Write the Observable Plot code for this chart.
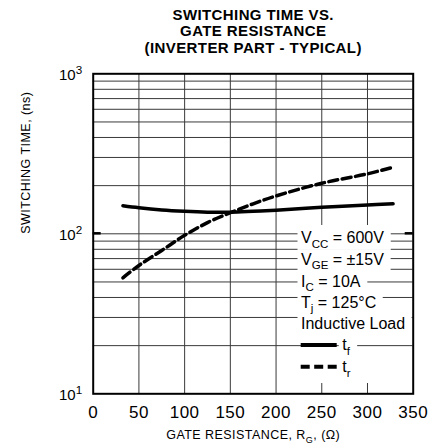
<!DOCTYPE html>
<html><head><meta charset="utf-8">
<script src="https://cdn.jsdelivr.net/npm/d3@7"></script>
<script src="https://cdn.jsdelivr.net/npm/@observablehq/plot@0.6"></script>
<style>
html,body{margin:0;padding:0;background:#fff;}
#chart{width:442px;height:445px;}
.ttl{letter-spacing:0.4px}
.axlab{letter-spacing:0.45px}
.xtk{letter-spacing:0.5px}
</style></head><body><div id="chart"></div>
<script>
// ---- data ----
const gateRes = [32.5, 50, 75, 100, 125, 150, 175, 200, 250, 300, 328];
const tFall   = [149.6, 145.4, 141, 138.3, 136.6, 136.3, 138.2, 140.5, 146.6, 151.3, 154];
const tRise   = [53.1, 63.4, 78.7, 97.8, 117.5, 135.5, 154, 172.5, 207, 237, 260.6];

const xTicks = [0, 50, 100, 150, 200, 250, 300, 350];
const xGrid = [50, 100, 150, 200, 250, 300];
const yTicks = [10, 100, 1000];
const yTickLabels = ["10^{1}", "10^{2}", "10^{3}"];
const yGrid = [20, 30, 40, 50, 60, 70, 80, 90, 100, 200, 300, 400, 500, 600, 700, 800, 900];

const titleText = "SWITCHING TIME VS.\nGATE RESISTANCE\n(INVERTER PART - TYPICAL)";
const xLabel = "GATE RESISTANCE, R_{G}, (Ω)";
const yLabel = "SWITCHING TIME, (ns)";
const condLines = ["V_{CC} = 600V", "V_{GE} = ±15V", "I_{C} = 10A", "T_{j} = 125°C", "Inductive Load"];
const seriesNames = ["t_{f}", "t_{r}"];

const tfData = gateRes.map((x, i) => ({x, y: tFall[i]}));
const trData = gateRes.map((x, i) => ({x, y: tRise[i]}));

// ---- layout ----
const mL = 92.7, mT = 73.3, mR = 29.3, mB = 51.7;
const gridColor = "#3a3a3a";

const legendBox = (index, scales, values, dims) => {
  const g = d3.create("svg:g");
  g.append("rect")
    .attr("x", dims.marginLeft + 201.5).attr("y", dims.marginTop + 151.7)
    .attr("width", 118).attr("height", 158).attr("fill", "white");
  return g.node();
};

const stubs = (index, scales, values, dims) => {
  const g = d3.create("svg:g").attr("stroke", "black").attr("stroke-width", 2.5);
  const y = scales.y(100);
  const L = dims.marginLeft, R = dims.width - dims.marginRight;
  g.append("line").attr("x1", L).attr("x2", L + 8).attr("y1", y).attr("y2", y);
  g.append("line").attr("x1", R - 8).attr("x2", R).attr("y1", y).attr("y2", y);
  return g.node();
};

const legendSamples = (index, scales, values, dims) => {
  const g = d3.create("svg:g").attr("stroke", "black").attr("stroke-width", 4).attr("fill", "none");
  const x0 = dims.marginLeft + 208, x1 = dims.marginLeft + 244;
  g.append("line").attr("x1", x0).attr("x2", x1).attr("y1", dims.marginTop + 271.7).attr("y2", dims.marginTop + 271.7);
  g.append("line").attr("x1", x0).attr("x2", x1).attr("y1", dims.marginTop + 293.4).attr("y2", dims.marginTop + 293.4)
    .attr("stroke-dasharray", "9,4.5");
  return g.node();
};

const condDy = [169.2, 190.7, 212.7, 233.7, 254.7];
const seriesDy = [276.2, 298.2];

const plot = Plot.plot({
  width: 442,
  height: 445,
  marginLeft: mL, marginTop: mT, marginRight: mR, marginBottom: mB,
  style: {fontFamily: "'Liberation Sans', Arial, Helvetica, sans-serif", background: "white", color: "black", overflow: "visible"},
  x: {domain: [0, 350]},
  y: {type: "log", domain: [10, 1000]},
  marks: [
    Plot.ruleX(xGrid, {stroke: gridColor, strokeWidth: 1}),
    legendBox,
    Plot.ruleY(yGrid, {stroke: gridColor, strokeWidth: 1}),
    stubs,
    Plot.line(tfData, {x: "x", y: "y", stroke: "black", strokeWidth: 3.5, curve: "catmull-rom"}),
    Plot.line(trData, {x: "x", y: "y", stroke: "black", strokeWidth: 3.5, strokeDasharray: "9,4.5", curve: "catmull-rom"}),
    ...condLines.map((t, i) => Plot.text([t], {
      text: d => d, frameAnchor: "top-left", dx: 207.8, dy: condDy[i],
      textAnchor: "start", lineAnchor: "bottom", fontSize: 16,
      fill: "black", className: "legtxt"
    })),
    ...seriesNames.map((t, i) => Plot.text([t], {
      text: d => d, frameAnchor: "top-left", dx: 249, dy: seriesDy[i],
      textAnchor: "start", lineAnchor: "bottom", fontSize: 16,
      fill: "black", className: "legtxt"
    })),
    legendSamples,
    Plot.frame({stroke: "black", strokeWidth: 2}),
    Plot.axisX({ticks: xTicks, tickSize: 0, tickPadding: 12.5, fontSize: 17, label: null, className: "xtk"}),
    Plot.axisY({ticks: yTicks, tickFormat: d => yTickLabels[yTicks.indexOf(d)], tickSize: 0, tickPadding: 11, fontSize: 15, label: null, dy: 1}),
    Plot.text([titleText], {text: d => d, frameAnchor: "top", dy: -20.8, lineAnchor: "bottom", lineHeight: 1.107, fontSize: 15, fontWeight: "bold", className: "ttl"}),
    Plot.text([xLabel], {text: d => d, frameAnchor: "bottom", dy: 45.2, lineAnchor: "bottom", fontSize: 12.5, className: "axlab"}),
    Plot.text([yLabel], {text: d => d, frameAnchor: "left", dx: -67.7, rotate: -90, fontSize: 12.5, className: "axlab"})
  ]
});

document.getElementById("chart").appendChild(plot);

// rich text: _{sub} and ^{sup}
d3.select(plot).selectAll("text").each(function () {
  const s = this.textContent;
  if (!/[_^]\{/.test(s)) return;
  const fs = parseFloat(getComputedStyle(this).fontSize) || 12;
  const parts = [];
  const re = /([_^])\{([^}]*)\}/g;
  let last = 0, m;
  while ((m = re.exec(s))) {
    if (m.index > last) parts.push({t: s.slice(last, m.index), k: "n"});
    parts.push({t: m[2], k: m[1] === "_" ? "sub" : "sup"});
    last = re.lastIndex;
  }
  if (last < s.length) parts.push({t: s.slice(last), k: "n"});
  const el = d3.select(this);
  el.text(null);
  let shift = 0;
  for (const p of parts) {
    const ts = el.append("tspan").text(p.t);
    let target = 0;
    if (p.k === "sub") { target = 0.31 * fs; ts.attr("font-size", (0.72 * fs) + "px"); }
    if (p.k === "sup") { target = -0.4 * fs; ts.attr("font-size", (0.78 * fs) + "px"); }
    const d = target - shift;
    if (d !== 0) ts.attr("dy", d + "px");
    shift = target;
  }
});

// white knock-out boxes behind legend text (grid lines break around text)
d3.select(plot).selectAll("g.legtxt text").each(function () {
  const b = this.getBBox();
  const r = document.createElementNS("http://www.w3.org/2000/svg", "rect");
  r.setAttribute("x", b.x - 3.5);
  r.setAttribute("y", b.y + 1);
  r.setAttribute("width", b.width + 10);
  r.setAttribute("height", b.height - 1);
  r.setAttribute("fill", "white");
  r.setAttribute("stroke", "none");
  const tr = this.getAttribute("transform");
  if (tr) r.setAttribute("transform", tr);
  this.parentNode.insertBefore(r, this);
});
</script>
</body></html>
